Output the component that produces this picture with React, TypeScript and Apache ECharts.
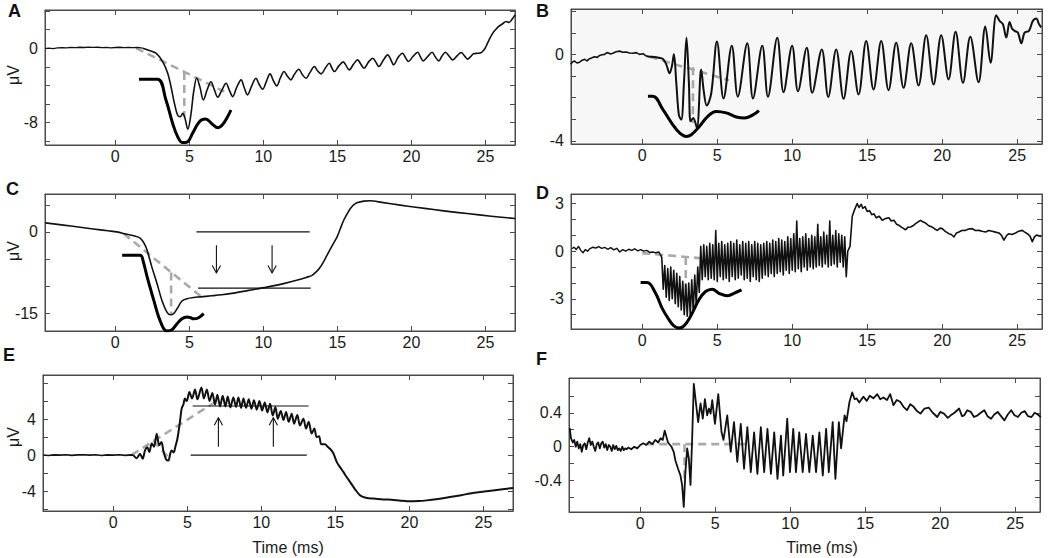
import React, { useEffect, useRef } from "react";
import * as echarts from "echarts";

type P = [number, number];

const xTickValues = [0, 5, 10, 15, 20, 25];

// ---------- Panel A ----------
const aBase: P[] = [[-4.75,-0.05],[-4.5,0.0],[-4.2,-0.04],[-3.9,0.03],[-3.6,0.05],[-3.3,0.03],[-3.0,0.08],[-2.7,0.05],[-2.4,0.1],[-2.1,0.07],[-1.8,0.11],[-1.5,0.08],[-1.2,0.1],[-0.9,0.06],[-0.6,0.09],[-0.3,0.04],[0,0.07],[0.3,0.1],[0.6,0.06],[0.9,0.09],[1.2,0.05],[1.5,0.08],[1.85,0.0]];
const aWave: P[] = [[1.85,0.0],[2.3,-0.25],[2.75,-0.54],[3.2,-1.44],[3.54,-2.7],[3.76,-4.12],[3.99,-5.9],[4.21,-7.2],[4.4,-7.35],[4.55,-7.0],[4.7,-7.5],[4.9,-8.7],[5.1,-7.2],[5.3,-4.6],[5.5,-3.2],[5.72,-4.2],[5.95,-5.56],[6.2,-4.5],[6.46,-3.6],[6.7,-4.5],[6.92,-5.27],[7.2,-4.5],[7.48,-3.77],[7.7,-4.5],[7.93,-5.2],[8.2,-4.2],[8.5,-3.4],[8.7,-4.2],[8.93,-5.02],[9.2,-4.1],[9.5,-3.23],[9.72,-3.9],[9.95,-4.41],[10.2,-3.6],[10.45,-2.76],[10.68,-3.5],[10.9,-4.05],[11.15,-3.2],[11.4,-2.51],[11.62,-3.0],[11.86,-3.4],[12.1,-2.8],[12.4,-2.26],[12.62,-2.8],[12.88,-3.23],[13.15,-2.6],[13.45,-1.97],[13.65,-2.4],[13.9,-2.76],[14.2,-2.1],[14.46,-1.62],[14.62,-2.1],[14.8,-2.51],[15.1,-1.9],[15.4,-1.47],[15.6,-1.9],[15.8,-2.33],[16.1,-1.7],[16.37,-1.26],[16.58,-1.7],[16.8,-2.15],[17.1,-1.5],[17.39,-1.08],[17.6,-1.5],[17.8,-1.97],[18.1,-1.3],[18.4,-0.72],[18.6,-1.2],[18.8,-1.79],[19.1,-1.0],[19.4,-0.54],[19.6,-1.0],[19.8,-1.43],[20.1,-0.9],[20.43,-0.43],[20.6,-0.9],[20.8,-1.36],[21.1,-0.9],[21.4,-0.43],[21.6,-0.9],[21.85,-1.36],[22.05,-0.9],[22.3,-0.43],[22.55,-0.85],[22.8,-1.26],[23.1,-0.8],[23.36,-0.47],[23.6,-0.85],[23.8,-1.18],[24.0,-0.9],[24.2,-0.6],[24.5,-0.55],[24.7,-0.5],[24.9,-0.2],[25.04,0.18],[25.25,0.9],[25.5,1.62],[25.7,2.0],[25.9,2.33],[26.15,2.6],[26.4,2.87],[26.6,2.76],[26.8,3.1],[27.0,3.58]];
const aTemplate: P[] = [[1.6,-3.33],[2.85,-3.33],[3.42,-5.56],[3.87,-8.06],[4.21,-9.5],[4.55,-10.14],[4.89,-10.04],[5.22,-9.14],[5.68,-7.89],[6.08,-7.6],[6.58,-8.2],[6.92,-8.55],[7.25,-8.2],[7.59,-7.35],[7.81,-6.64]];
const aDiag: P[] = [[1.4,0],[7.36,-4.67]];
const aDrop: P[] = [[4.66,-2.55],[4.66,-7.35]];

// ---------- Panel B ----------
const bBase: P[] = [[-4.78,-0.46],[-4.65,-0.35],[-4.51,-0.31],[-4.35,-0.4],[-4.18,-0.36],[-4.0,-0.27],[-3.84,-0.23],[-3.68,-0.3],[-3.51,-0.2],[-3.35,-0.16],[-3.18,-0.11],[-3.0,-0.14],[-2.84,-0.05],[-2.68,-0.02],[-2.51,0.0],[-2.4,0.06],[-2.29,0.08],[-2.12,0.02],[-1.96,0.05],[-1.75,0.12],[-1.51,0.15],[-1.3,0.1],[-1.07,0.11],[-0.85,0.06],[-0.62,0.05],[-0.4,0.08],[-0.18,0.0],[0.05,0.03],[0.27,-0.08]];
const bWave: P[] = [[0.27,-0.08],[0.49,-0.11],[0.8,-0.12],[1.1,-0.16],[1.38,-0.22],[1.6,-0.46],[1.82,-0.88],[1.98,-0.54],[2.11,0.0],[2.27,-1.32],[2.44,-2.8],[2.6,-3.02],[2.78,-1.32],[2.95,0.77],[3.11,-1.32],[3.22,-3.1],[3.4,-2.95],[3.64,-3.41],[3.93,-0.7],[4.1,-1.7],[4.3,-2.37],[4.6,-1.8],[4.98,0.6],[5.42,-2.04],[5.97,0.4],[6.37,-1.96],[7.0,0.51],[7.38,-2.04],[8.0,0.4],[8.38,-1.96],[9.0,0.77],[9.42,-1.75],[9.99,0.4],[10.38,-1.71],[10.97,0.31],[11.33,-1.78],[11.97,0.23],[12.4,-1.97],[12.93,0.23],[13.42,-2.06],[13.93,0.16],[14.42,-1.86],[14.93,0.62],[15.42,-1.63],[15.93,0.62],[16.42,-1.66],[16.93,0.54],[17.42,-1.55],[17.93,0.51],[18.42,-1.44],[18.93,0.88],[19.42,-1.4],[19.93,0.88],[20.42,-1.16],[20.89,1.05],[21.38,-1.32],[21.87,0.82],[22.42,-1.29],[22.87,1.29],[23.22,-0.39],[23.6,1.81],[23.82,1.55],[24.04,1.4],[24.27,0.78],[24.49,1.5],[24.65,1.2],[24.82,1.09],[25.04,1.01],[25.27,0.51],[25.49,1.01],[25.78,1.09],[26.04,1.55],[26.27,1.66],[26.45,1.4],[26.6,1.25]];
const bTemplate: P[] = [[0.38,-1.94],[0.71,-1.94],[1.38,-2.56],[2.04,-3.26],[2.49,-3.64],[2.93,-3.8],[3.27,-3.72],[3.82,-3.33],[4.37,-2.87],[4.93,-2.64],[5.6,-2.71],[6.27,-2.9],[6.82,-2.95],[7.38,-2.8],[7.78,-2.6]];
const bDiag: P[] = [[0.49,-0.11],[5.78,-1.2]];
const bDrop: P[] = [[3.38,-0.6],[3.38,-3.18]];

// ---------- Panel C ----------
const cMain: P[] = [[-4.73,1.67],[-3.5,1.25],[-2.5,0.9],[-1.5,0.55],[-0.5,0.2],[0.1,0.0],[0.79,-0.45],[1.3,-0.75],[1.6,-1.0],[1.81,-1.55],[2.0,-2.4],[2.15,-3.4],[2.47,-6.5],[2.82,-9.57],[3.15,-12.65],[3.49,-14.8],[3.72,-15.3],[3.94,-15.1],[4.17,-14.2],[4.5,-12.77],[4.84,-12.33],[5.3,-12.1],[5.74,-12.0],[6.5,-11.8],[7.2,-11.6],[7.99,-11.3],[9.0,-10.8],[10.24,-10.2],[11.3,-9.6],[12.5,-8.76],[12.9,-8.4],[13.29,-8.02],[13.6,-7.3],[13.85,-6.48],[14.15,-5.1],[14.42,-3.7],[14.7,-2.3],[14.98,-0.93],[15.2,0.6],[15.43,2.16],[15.65,3.3],[15.88,4.32],[16.1,5.0],[16.33,5.37],[16.78,5.68],[17.22,5.74],[18.0,5.45],[19.25,4.94],[20.3,4.55],[21.5,4.13],[22.6,3.75],[23.76,3.39],[25.4,2.9],[27.0,2.47]];
const cTemplate: P[] = [[0.46,-4.31],[1.69,-4.31],[1.9,-5.6],[2.15,-8.32],[2.6,-12.65],[2.93,-15.7],[3.27,-17.9],[3.49,-18.3],[3.83,-18.08],[4.17,-16.97],[4.5,-16.04],[4.84,-15.7],[5.05,-15.8],[5.29,-16.04],[5.63,-15.85],[5.97,-15.1]];
const cDiag: P[] = [[0.56,-0.31],[5.97,-12.33]];
const cDrop: P[] = [[3.77,-7.5],[3.77,-15.1]];
const cLevelTop: P[] = [[5.48,0],[13.13,0]];
const cLevelBottom: P[] = [[5.59,-10.37],[13.2,-10.37]];
const cArrows: [number, number, number][] = [[6.83,-2.46,-7.59],[10.59,-2.46,-7.59]];

// ---------- Panel D ----------
const dBase: P[] = [[-4.7,0.15],[-4.55,0.25],[-4.4,0.1],[-4.25,0.3],[-4.1,0.05],[-3.95,-0.1],[-3.8,0.1],[-3.65,0.0],[-3.5,0.15],[-3.3,0.25],[-3.1,0.2],[-2.9,0.28],[-2.7,0.18],[-2.5,0.24],[-2.3,0.12],[-2.1,0.22],[-1.9,0.08],[-1.7,0.18],[-1.5,-0.05],[-1.3,0.1],[-1.1,0.0],[-0.9,0.12],[-0.7,0.05],[-0.5,0.15],[-0.3,0.02],[-0.1,0.1],[0.1,0.0],[0.3,0.05],[0.5,-0.08],[0.7,-0.05],[0.9,-0.1],[1.1,-0.05],[1.2,-0.2]];
const dWave: P[] = [[1.2,-0.2],[1.3,-0.4],[1.4,-2.4],[1.5,-0.9],[1.6,-2.9],[1.7,-1.1],[1.8,-3.1],[1.9,-1.0],[2.0,-3.0],[2.1,-1.2],[2.2,-3.3],[2.3,-1.4],[2.4,-3.5],[2.5,-1.6],[2.6,-3.7],[2.7,-1.9],[2.8,-4.0],[2.9,-2.1],[3.0,-4.1],[3.1,-2.0],[3.2,-4.0],[3.3,-1.8],[3.4,-3.8],[3.5,-1.5],[3.6,-3.4],[3.7,-1.0],[3.8,-2.6],[3.9,0.3],[4.0,-1.8],[4.1,0.4],[4.2,-1.6],[4.3,0.3],[4.4,-1.8],[4.5,0.5],[4.6,-1.7],[4.7,0.4],[4.8,-1.8],[4.9,1.3],[5.0,-1.9],[5.1,0.5],[5.2,-1.6],[5.3,0.6],[5.4,-1.8],[5.5,0.4],[5.6,-1.7],[5.7,0.5],[5.8,-1.9],[5.9,0.6],[6.0,-1.6],[6.1,0.5],[6.2,-1.8],[6.3,0.7],[6.4,-1.7],[6.5,0.4],[6.6,-1.5],[6.7,0.6],[6.8,-1.8],[6.9,0.5],[7.0,-1.7],[7.1,0.6],[7.2,-1.9],[7.3,0.4],[7.4,-1.6],[7.5,0.6],[7.6,-1.8],[7.7,0.5],[7.8,-1.9],[7.9,0.4],[8.0,-1.7],[8.1,0.5],[8.2,-1.5],[8.3,0.6],[8.4,-1.6],[8.5,0.5],[8.6,-1.4],[8.7,0.7],[8.8,-1.6],[8.9,0.6],[9.0,-1.4],[9.1,0.8],[9.2,-1.3],[9.3,0.7],[9.4,-1.5],[9.5,0.6],[9.6,-1.2],[9.7,0.9],[9.8,-1.4],[9.9,0.8],[10.0,-1.2],[10.1,1.1],[10.2,-1.3],[10.3,1.9],[10.4,-1.1],[10.5,0.8],[10.6,-1.3],[10.7,0.9],[10.8,-1.0],[10.9,1.1],[11.0,-1.2],[11.1,0.8],[11.2,-1.0],[11.3,1.0],[11.4,-1.1],[11.5,0.9],[11.6,-1.0],[11.7,1.7],[11.8,-0.9],[11.9,0.9],[12.0,-1.0],[12.1,1.2],[12.2,-0.8],[12.3,1.0],[12.4,-1.0],[12.5,1.9],[12.6,-0.9],[12.7,1.0],[12.8,-0.8],[12.9,1.3],[13.0,-1.0],[13.1,1.1],[13.2,-0.7],[13.3,1.0],[13.4,-1.0],[13.5,0.9],[13.6,-1.6],[13.7,0.0],[13.85,0.3],[14.0,2.2],[14.15,2.6],[14.33,3.0],[14.45,2.75],[14.6,2.95],[14.7,2.7],[14.85,2.8],[15.0,2.5],[15.15,2.55],[15.3,2.3],[15.45,2.35],[15.6,2.1],[15.8,2.2],[16.0,1.95],[16.2,2.05],[16.44,2.1],[16.6,1.9],[16.78,1.95],[16.95,1.7],[17.11,1.63],[17.3,1.5],[17.56,1.35],[17.7,1.5],[17.89,1.52],[18.05,1.6],[18.22,1.73],[18.4,1.85],[18.56,1.94],[18.7,1.85],[18.89,1.77],[19.1,1.6],[19.33,1.52],[19.5,1.4],[19.67,1.31],[19.85,1.45],[20.0,1.42],[20.2,1.25],[20.44,1.1],[20.6,1.05],[20.78,0.9],[20.95,1.15],[21.11,1.21],[21.3,1.3],[21.56,1.31],[21.75,1.4],[22.0,1.42],[22.2,1.3],[22.44,1.31],[22.65,1.25],[22.89,1.21],[23.1,1.3],[23.33,1.25],[23.55,1.2],[23.78,1.15],[23.95,1.0],[24.11,0.69],[24.3,1.0],[24.44,1.1],[24.65,1.05],[24.89,1.15],[25.1,1.25],[25.33,1.31],[25.5,1.2],[25.67,1.1],[25.85,0.95],[26.0,0.6],[26.15,0.9],[26.3,1.02],[26.45,0.95],[26.6,0.92]];
const dTemplate: P[] = [[-0.11,-1.98],[0.33,-1.98],[0.89,-2.65],[1.33,-3.6],[1.78,-4.31],[2.11,-4.7],[2.44,-4.83],[2.78,-4.7],[3.22,-4.1],[3.78,-3.06],[4.22,-2.54],[4.67,-2.4],[5.11,-2.65],[5.67,-2.81],[6.11,-2.65],[6.62,-2.44]];
const dDiag: P[] = [[0.0,-0.12],[5.78,-0.6]];
const dDrop: P[] = [[2.9,-0.36],[2.9,-2.85]];

// ---------- Panel E ----------
const eBase: P[] = [[-4.73,0.02],[-4.4,-0.03],[-4.0,0.03],[-3.6,0.0],[-3.2,0.04],[-2.8,-0.02],[-2.4,0.03],[-2.0,0.05],[-1.6,0.0],[-1.2,0.04],[-0.8,-0.03],[-0.4,0.03],[0,0.0],[0.4,0.05],[0.8,-0.02],[1.2,0.03],[1.35,0.0]];
const eWave: P[] = [[1.35,0.0],[1.58,-0.34],[1.8,0.15],[1.98,-0.41],[2.14,0.52],[2.3,0.89],[2.43,0.34],[2.6,1.3],[2.75,0.93],[2.93,2.38],[3.1,1.1],[3.25,1.45],[3.4,0.34],[3.56,-0.45],[3.72,-0.6],[3.85,0.2],[3.94,0.52],[4.08,0.3],[4.2,1.0],[4.33,1.82],[4.5,3.69],[4.62,5.2],[4.73,5.6],[4.84,6.3],[4.96,6.0],[5.14,7.0],[5.32,6.3],[5.52,7.3],[5.68,6.2],[5.95,7.5],[6.12,6.3],[6.32,7.3],[6.5,6.0],[6.69,6.9],[6.87,5.6],[7.03,6.7],[7.21,5.4],[7.39,6.6],[7.57,5.4],[7.73,6.5],[7.91,5.3],[8.11,6.4],[8.29,5.35],[8.45,6.4],[8.63,5.25],[8.79,6.3],[8.97,5.25],[9.15,6.2],[9.33,5.15],[9.5,6.1],[9.69,5.05],[9.87,6.0],[10.05,4.95],[10.23,5.85],[10.41,4.75],[10.59,5.7],[10.77,4.4],[10.95,5.35],[11.11,4.05],[11.31,4.9],[11.49,3.9],[11.67,4.8],[11.85,3.7],[12.05,4.6],[12.21,3.5],[12.43,4.45],[12.61,3.3],[12.84,4.05],[13.02,2.95],[13.2,3.7],[13.4,2.4],[13.58,2.95],[13.74,2.0],[13.9,2.1],[14.05,1.2],[14.3,1.2],[14.5,0.9],[14.7,0.6],[14.87,0.19],[15.09,-0.74],[15.3,-1.3],[15.54,-1.86],[15.75,-2.4],[15.99,-2.97],[16.33,-3.79],[16.67,-4.46],[17.12,-4.76],[17.6,-4.82],[18.25,-4.91],[18.8,-4.95],[19.4,-5.05],[20.05,-5.13],[20.6,-5.1],[21.18,-5.02],[21.8,-4.9],[22.75,-4.65],[23.5,-4.45],[24.1,-4.25],[24.78,-4.09],[25.5,-3.95],[26.3,-3.78],[27.0,-3.64]];
const eDiag: P[] = [[1.24,0.04],[6.98,5.99]];
const eDrop: P[] = [[2.7,1.6],[3.75,-0.3]];
const eLevelTop: P[] = [[5.36,5.46],[13.19,5.46]];
const eLevelBottom: P[] = [[5.23,0],[13.07,0]];
const eArrows: [number, number, number][] = [[7.1,0.93,4.16],[10.81,0.93,4.16]];

// ---------- Panel F ----------
const fMain: P[] = [[-4.7,0.22],[-4.62,0.1],[-4.5,0.05],[-4.4,0.08],[-4.3,0.0],[-4.2,0.06],[-4.1,-0.02],[-4.0,0.03],[-3.9,-0.06],[-3.8,0.02],[-3.7,0.04],[-3.6,-0.03],[-3.5,0.05],[-3.4,0.1],[-3.3,0.02],[-3.2,0.06],[-3.1,0.0],[-3.0,-0.05],[-2.9,0.03],[-2.8,0.05],[-2.7,-0.02],[-2.6,0.04],[-2.5,0.06],[-2.4,-0.01],[-2.3,0.03],[-2.2,-0.04],[-2.1,0.02],[-2.0,0.0],[-1.9,-0.05],[-1.8,0.02],[-1.7,-0.03],[-1.6,0.01],[-1.5,-0.04],[-1.4,-0.02],[-1.3,-0.05],[-1.2,0.0],[-1.1,-0.04],[-1.0,-0.02],[-0.9,-0.03],[-0.8,-0.01],[-0.6,-0.03],[-0.4,0.0],[-0.2,-0.02],[0,0.02],[0.2,0.04],[0.4,0.02],[0.6,0.06],[0.8,0.03],[1.0,0.08],[1.2,0.05],[1.35,0.1],[1.5,0.08],[1.63,0.19],[1.85,0.05],[2.08,0.0],[2.23,-0.06],[2.34,-0.16],[2.52,-0.26],[2.68,-0.34],[2.79,-0.45],[2.9,-0.71],[3.01,-0.3],[3.13,-0.02],[3.24,-0.14],[3.35,-0.45],[3.46,0.09],[3.57,0.74],[3.73,0.49],[3.86,0.29],[4.02,0.51],[4.17,0.33],[4.31,0.56],[4.46,0.37],[4.58,0.45],[4.69,0.39],[4.8,0.55],[4.98,0.27],[5.2,0.62],[5.42,0.17],[5.55,0.08],[5.8,0.37],[6.03,-0.06],[6.25,0.29],[6.47,-0.18],[6.7,0.27],[6.92,-0.26],[7.14,0.23],[7.37,-0.3],[7.59,0.17],[7.81,-0.32],[8.04,0.23],[8.26,-0.3],[8.48,0.21],[8.71,-0.32],[8.93,0.17],[9.15,-0.38],[9.38,0.13],[9.53,-0.34],[9.8,0.33],[9.98,-0.3],[10.2,0.21],[10.38,-0.3],[10.6,0.17],[10.83,-0.3],[11.05,0.15],[11.27,-0.3],[11.5,0.13],[11.72,-0.3],[11.94,0.17],[12.17,-0.34],[12.39,0.21],[12.57,-0.3],[12.83,0.29],[13.01,-0.38],[13.24,0.29],[13.39,-0.02],[13.62,0.37],[13.75,0.3],[13.95,0.53],[14.13,0.64],[14.29,0.56],[14.42,0.57],[14.6,0.52],[14.87,0.59],[15.1,0.54],[15.3,0.6],[15.54,0.57],[15.8,0.62],[16.0,0.56],[16.21,0.58],[16.45,0.55],[16.66,0.62],[16.88,0.49],[17.1,0.55],[17.33,0.53],[17.55,0.47],[17.78,0.43],[18.0,0.5],[18.23,0.47],[18.45,0.42],[18.68,0.39],[18.95,0.45],[19.24,0.46],[19.5,0.4],[19.8,0.35],[20.0,0.41],[20.25,0.39],[20.5,0.34],[20.7,0.37],[20.95,0.4],[21.26,0.45],[21.45,0.36],[21.6,0.37],[21.8,0.43],[22.04,0.41],[22.25,0.35],[22.49,0.37],[22.7,0.4],[22.94,0.43],[23.15,0.36],[23.39,0.33],[23.6,0.38],[23.83,0.41],[24.05,0.36],[24.28,0.31],[24.5,0.38],[24.73,0.43],[24.95,0.37],[25.18,0.35],[25.4,0.4],[25.63,0.42],[25.85,0.36],[26.08,0.35],[26.3,0.4],[26.5,0.38],[26.7,0.35]];
const fDiag: P[] = [[0.4,0.03],[7.24,0.03]];
const fDrop: P[] = [[2.95,0.03],[2.95,-0.4]];

// ---------- Layout ----------
const FONT = "'Liberation Sans', Arial, Helvetica, sans-serif";
const AXIS = "#4a4a4a";
const LABEL = "#1a1a1a";
const GRAY = "#a9a9a9";

const panels = [
  { grid: { left: 45, top: 10, width: 470, height: 135 }, x: [-4.75, 27], y: [-10.4, 4.1], yTicks: [-10, -8, -6, -4, -2, 0, 2, 4], yLabels: [-8, 0], bg: "transparent" },
  { grid: { left: 571, top: 9, width: 471, height: 135 }, x: [-4.75, 26.65], y: [-4.15, 2.1], yTicks: [-4, -3, -2, -1, 0, 1, 2], yLabels: [-4, 0], bg: "#f7f7f7" },
  { grid: { left: 45, top: 194, width: 470, height: 137 }, x: [-4.75, 27], y: [-18.3, 7], yTicks: [-15, -10, -5, 0, 5], yLabels: [-15, 0], bg: "transparent" },
  { grid: { left: 571, top: 194, width: 471, height: 135 }, x: [-4.75, 26.65], y: [-4.9, 3.6], yTicks: [-4, -3, -2, -1, 0, 1, 2, 3], yLabels: [-3, 0, 3], bg: "transparent" },
  { grid: { left: 43, top: 375, width: 470, height: 136 }, x: [-4.75, 27], y: [-6.2, 8.9], yTicks: [-6, -4, -2, 0, 2, 4, 6, 8], yLabels: [-4, 0, 4], bg: "transparent" },
  { grid: { left: 569, top: 378, width: 471, height: 134 }, x: [-4.75, 26.65], y: [-0.77, 0.81], yTicks: [-0.6, -0.4, -0.2, 0, 0.2, 0.4, 0.6], yLabels: [-0.4, 0, 0.4], bg: "transparent" },
];

function App() {
  const ref = useRef<HTMLDivElement>(null);
  useEffect(() => {
    if (!ref.current) return;
    const chart = echarts.init(ref.current, null, { renderer: "svg" });

    const grids: any[] = [];
    const xAxes: any[] = [];
    const yAxes: any[] = [];
    panels.forEach((p, i) => {
      grids.push({ ...p.grid, show: true, borderColor: AXIS, borderWidth: 1, backgroundColor: p.bg, containLabel: false, outerBoundsMode: "none" });
      const tickStyle = { show: true, inside: true, length: 5, lineStyle: { color: AXIS, width: 1 } };
      xAxes.push({ type: "value", gridIndex: i, min: p.x[0], max: p.x[1], position: "bottom",
        axisLine: { show: true, onZero: false, lineStyle: { color: AXIS } },
        axisTick: { ...tickStyle, customValues: xTickValues },
        axisLabel: { show: true, customValues: xTickValues, color: LABEL, fontSize: 16, fontFamily: FONT, margin: 3 },
        splitLine: { show: false } });
      xAxes.push({ type: "value", gridIndex: i, min: p.x[0], max: p.x[1], position: "top",
        axisLine: { show: true, onZero: false, lineStyle: { color: AXIS } },
        axisTick: { ...tickStyle, customValues: xTickValues },
        axisLabel: { show: false }, splitLine: { show: false } });
      yAxes.push({ type: "value", gridIndex: i, min: p.y[0], max: p.y[1], position: "left",
        axisLine: { show: true, onZero: false, lineStyle: { color: AXIS } },
        axisTick: { ...tickStyle, customValues: p.yTicks },
        axisLabel: { show: true, customValues: p.yLabels, color: LABEL, fontSize: 16, fontFamily: FONT, margin: 7,
          formatter: (v: number) => String(Math.round(v * 100) / 100) },
        splitLine: { show: false } });
      yAxes.push({ type: "value", gridIndex: i, min: p.y[0], max: p.y[1], position: "right",
        axisLine: { show: true, onZero: false, lineStyle: { color: AXIS } },
        axisTick: { ...tickStyle, customValues: p.yTicks },
        axisLabel: { show: false }, splitLine: { show: false } });
    });

    const series: any[] = [];
    const line = (gi: number, data: any[], color: string, width: number, opts: any = {}) => {
      series.push({ type: "line", xAxisIndex: gi * 2, yAxisIndex: gi * 2, data, symbol: "none", showSymbol: false,
        silent: true, animation: false, clip: true, z: opts.z ?? 3, smooth: opts.smooth ?? false,
        lineStyle: { color, width, type: opts.dash ?? "solid", cap: "butt", join: "round" } });
    };
    const dash = (gi: number, data: P[]) => line(gi, data, GRAY, 2.6, { dash: [8, 5], z: 2 });
    const arrow = (gi: number, a: [number, number, number], dx: number, dy: number) => {
      const [t, v0, v1] = a;
      const s = v1 > v0 ? -1 : 1;
      line(gi, [[t, v0], [t, v1]], "#111", 1.1);
      line(gi, [[t - dx, v1 + s * dy], [t, v1], [t + dx, v1 + s * dy]], "#111", 1.1);
    };

    // A
    dash(0, aDiag); dash(0, aDrop);
    line(0, aBase, "#111", 1.3);
    line(0, aWave, "#111", 1.6, { smooth: 0.35 });
    line(0, aTemplate, "#000", 3, { smooth: 0.4 });
    // B
    dash(1, bDiag); dash(1, bDrop);
    line(1, bBase, "#111", 1.6);
    line(1, bWave, "#111", 2, { smooth: 0.35 });
    line(1, bTemplate, "#000", 3, { smooth: 0.4 });
    // C
    dash(2, cDiag); dash(2, cDrop);
    line(2, cMain, "#111", 1.6, { smooth: 0.3 });
    line(2, cTemplate, "#000", 3, { smooth: 0.35 });
    line(2, cLevelTop, "#111", 1.2);
    line(2, cLevelBottom, "#111", 1.2);
    cArrows.forEach((a) => arrow(2, a, 0.28, 1.4));
    // D
    dash(3, dDiag); dash(3, dDrop);
    line(3, dBase, "#111", 1.4);
    line(3, dWave, "#111", 1.6);
    line(3, dTemplate, "#000", 3, { smooth: 0.4 });
    // E
    dash(4, eDiag); dash(4, eDrop);
    line(4, eBase, "#111", 1.6);
    line(4, eWave, "#111", 2, { smooth: 0.3 });
    line(4, eLevelTop, "#111", 1.2);
    line(4, eLevelBottom, "#111", 1.2);
    eArrows.forEach((a) => arrow(4, a, 0.28, 0.85));
    // F
    dash(5, fDiag); dash(5, fDrop);
    line(5, fMain, "#111", 1.8);

    const letter = (t: string, x: number, y: number) => ({ type: "text", x, y, style: { text: t, font: `bold 18px ${FONT}`, fill: "#111", textVerticalAlign: "top" } });
    const yName = (x: number, y: number) => ({ type: "text", x, y, rotation: Math.PI / 2, style: { text: "μV", font: `16px ${FONT}`, fill: LABEL, textAlign: "center", textVerticalAlign: "middle" } });
    const xName = (x: number, y: number) => ({ type: "text", x, y, style: { text: "Time (ms)", font: `16px ${FONT}`, fill: LABEL, textAlign: "center", textVerticalAlign: "middle" } });

    chart.setOption({
      animation: false,
      backgroundColor: "#ffffff",
      grid: grids,
      xAxis: xAxes,
      yAxis: yAxes,
      series,
      graphic: [
        letter("A", 8, 2), letter("B", 536, 2), letter("C", 6, 180), letter("D", 536, 184), letter("E", 3, 346), letter("F", 536, 350),
        yName(13, 75), yName(13, 251), yName(13, 437),
        xName(288, 547), xName(822, 547),
      ],
    });
    return () => chart.dispose();
  }, []);
  return <div ref={ref} style={{ position: "fixed", left: 0, top: 0, width: 1050, height: 558 }} />;
}

export default App;
